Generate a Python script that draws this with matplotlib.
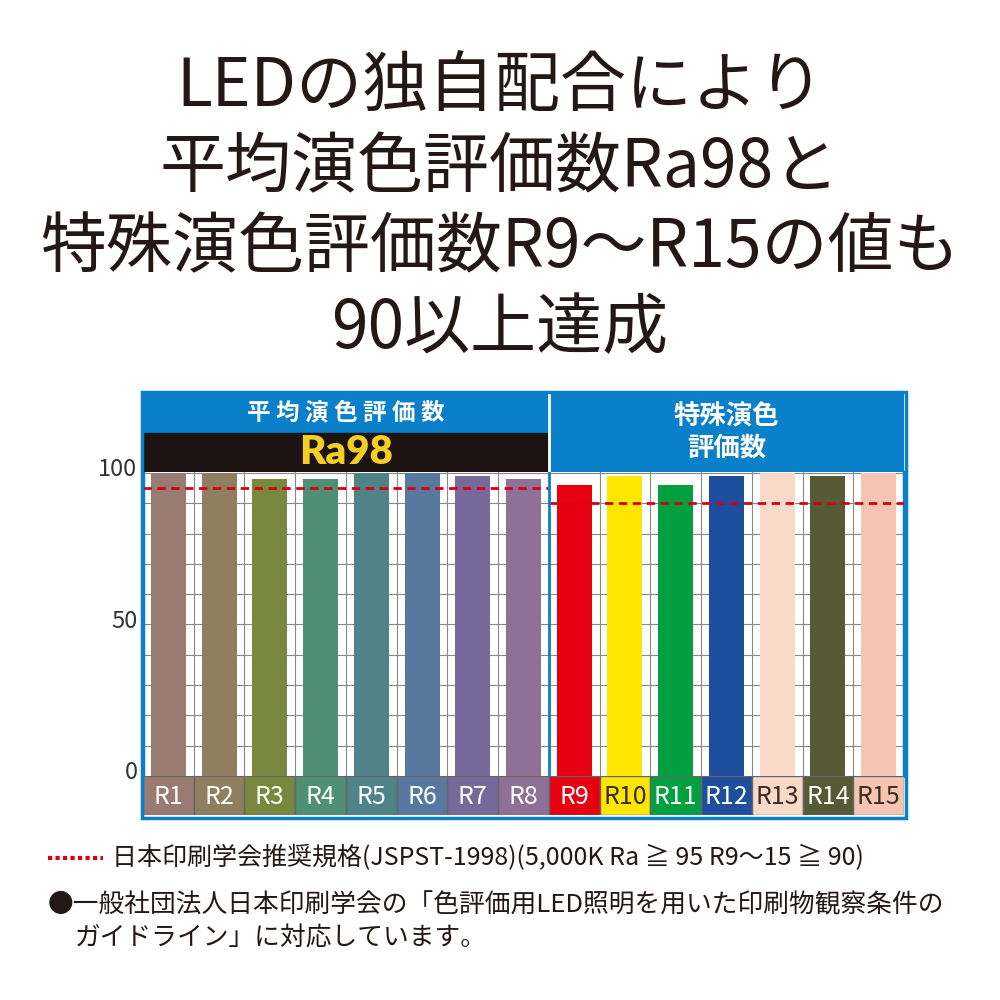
import matplotlib
matplotlib.use("Agg")
import matplotlib.pyplot as plt
from matplotlib.patches import Rectangle
from matplotlib.lines import Line2D
from matplotlib.transforms import ScaledTranslation
import numpy as np

plt.rcParams['font.family'] = ['Noto Sans CJK JP', 'DejaVu Sans']

# data
labels = ["R1", "R2", "R3", "R4", "R5", "R6", "R7", "R8",
          "R9", "R10", "R11", "R12", "R13", "R14", "R15"]
values = [100, 100, 98, 98, 100, 100, 99, 98,
          96, 99, 96, 99, 100, 99, 100]
bar_colors = ["#9a7b72", "#8f7f5f", "#7a873e", "#4f8f73", "#4f8388",
              "#5878a0", "#776a9a", "#8f7096", "#e60012", "#ffe600",
              "#00a040", "#1e4f9e", "#f9d9c7", "#565a35", "#f5c5b2"]
label_text_colors = ["white"] * 9 + ["#3a2c22", "white", "white",
                                     "#3a2c22", "white", "#3a2c22"]
ra_standard = 95      # R1-R8
special_standard = 90  # R9-R15

title_lines = ["LEDの独自配合により", "平均演色評価数Ra98と",
               "特殊演色評価数R9〜R15の値も", "90以上達成"]
legend_text = "日本印刷学会推奨規格(JSPST-1998)(5,000K Ra ≧ 95 R9〜15 ≧ 90)"
note_lines = ["●一般社団法人日本印刷学会の「色評価用LED照明を用いた印刷物観察条件の",
              "ガイドライン」に対応しています。"]

BLUE = "#0a7fca"
INK = "#231815"

fig = plt.figure(figsize=(10, 10), dpi=100)

# title
for i, line in enumerate(title_lines):
    fig.text(0.5, 0.912 - i * 0.0805, line, ha="center", va="center",
             fontsize=47.5, color=INK)

x = np.arange(len(labels))

# main plot
ax = fig.add_axes([0.143, 0.224, 0.761, 0.304])
ax.bar(x, values, width=0.69, color=bar_colors, zorder=2)
ax.set_xlim(-0.5, 14.5)
ax.set_ylim(0, 100.3)
ax.set_yticks(np.arange(0, 101, 10))
ax.set_yticklabels([str(v) if v % 50 == 0 else "" for v in range(0, 101, 10)])
ax.set_xticks([])
ax.set_xticks(np.arange(-0.5, 15, 1), minor=True)
ax.tick_params(axis="y", length=0, pad=4, labelsize=17, labelcolor="#333333")
ax.tick_params(axis="x", which="minor", length=0)
ax.yaxis.grid(True, color="#888888", lw=0.8, zorder=0)
ax.xaxis.grid(True, which="minor", color="#888888", lw=0.8, zorder=0)
ax.set_axisbelow(True)
for lbl in ax.get_yticklabels():
    lbl.set_transform(lbl.get_transform() +
                      ScaledTranslation(0, 4 / 72, fig.dpi_scale_trans))
for s in ["top", "bottom"]:
    ax.spines[s].set_visible(False)
for s in ["left", "right"]:
    ax.spines[s].set_color(BLUE)
    ax.spines[s].set_linewidth(2.5)
ax.hlines(ra_standard, -0.5, 7.5, colors="#d7000f", lw=2,
          linestyles=(0, (3, 2)), zorder=3)
ax.hlines(special_standard, 7.5, 14.5, colors="#d7000f", lw=2,
          linestyles=(0, (3, 2)), zorder=3)
ax.axvline(7.5, color=BLUE, lw=2, zorder=4)

# label row
lax = fig.add_axes([0.143, 0.185, 0.761, 0.039])
lax.bar(x, [1] * len(labels), width=1, color=bar_colors,
        edgecolor="#666666", lw=1)
lax.set_xlim(-0.5, 14.5)
lax.set_ylim(0, 1)
lax.axis("off")
for i, lab in enumerate(labels):
    lax.text(i, 0.45, lab, ha="center", va="center", fontsize=18,
             color=label_text_colors[i])

# header
hax = fig.add_axes([0.143, 0.528, 0.761, 0.079])
hax.set_xlim(-0.5, 14.5)
hax.set_ylim(0, 1)
hax.axis("off")
hax.add_patch(Rectangle((-0.5, 0.5), 8, 0.5, color=BLUE))
hax.add_patch(Rectangle((-0.5, 0), 8, 0.5, color="#1c1312"))
hax.add_patch(Rectangle((7.5, 0), 7, 1, color=BLUE))
hax.axvline(7.5, color="white", lw=2)
hax.text(3.5, 0.75, "平 均 演 色 評 価 数", ha="center", va="center",
         fontsize=17, fontweight="bold", color="white")
hax.text(3.5, 0.25, "Ra98", ha="center", va="center", fontsize=29,
         fontweight="heavy", color="#f4cf21", family=["Lato", "DejaVu Sans"])
hax.text(11, 0.5, "特殊演色\n評価数", ha="center", va="center",
         fontsize=19, fontweight="bold", color="white", linespacing=1.2)

# outer frame
fig.add_artist(Rectangle((0.1415, 0.182), 0.764, 0.426, fill=False,
                         edgecolor=BLUE, lw=2.5))

# footer
fig.add_artist(Line2D([0.048, 0.103], [0.142, 0.142], color="#d7000f",
                      lw=3, linestyle=(0, (1, 0.8))))
fig.text(0.112, 0.142, legend_text, ha="left", va="center", fontsize=18,
         color=INK)
fig.text(0.048, 0.095, note_lines[0], ha="left", va="center", fontsize=18.5,
         color=INK)
fig.text(0.075, 0.062, note_lines[1], ha="left", va="center", fontsize=18.5,
         color=INK)

fig.savefig("out.png", dpi=100)
